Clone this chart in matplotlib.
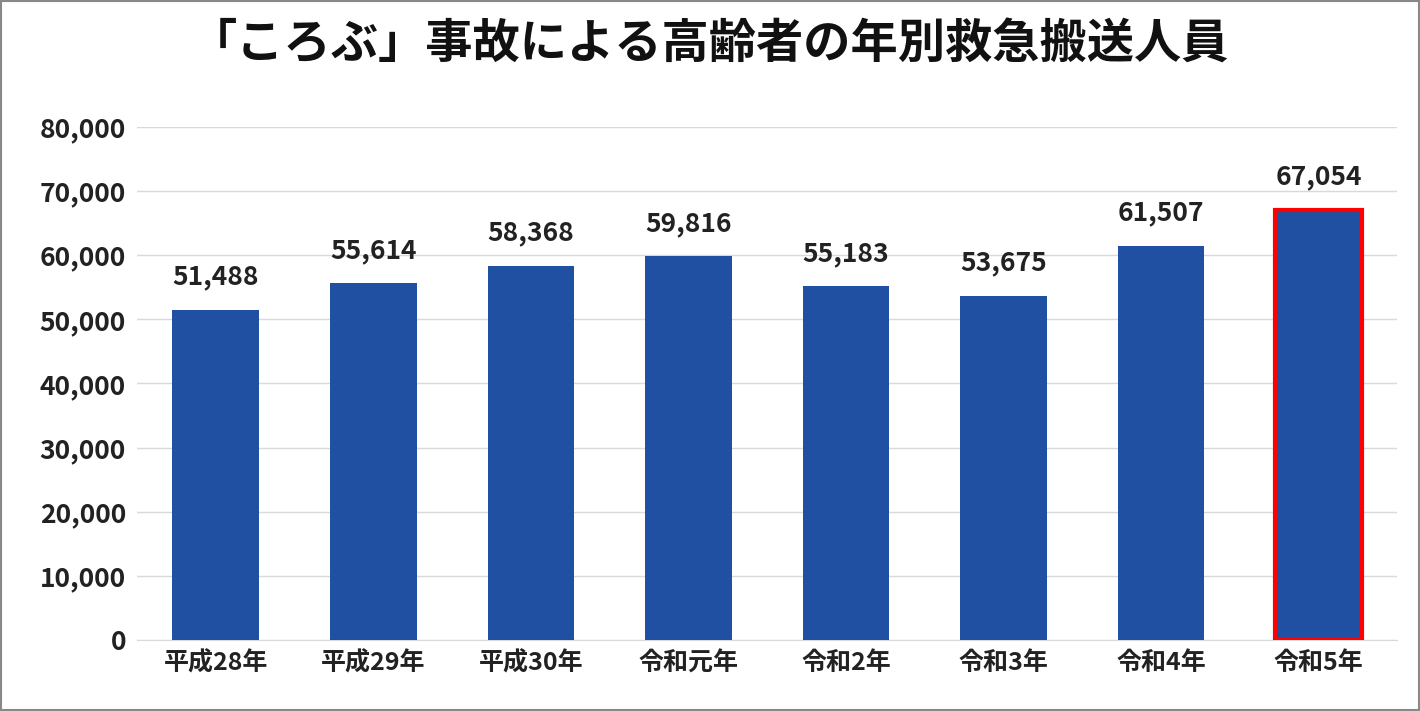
import matplotlib.pyplot as plt
from matplotlib.patches import Rectangle

plt.rcParams["font.family"] = "Noto Sans CJK JP"

# data
years = ["平成28年", "平成29年", "平成30年", "令和元年", "令和2年", "令和3年", "令和4年", "令和5年"]
counts = [51488, 55614, 58368, 59816, 55183, 53675, 61507, 67054]
yticks = [0, 10000, 20000, 30000, 40000, 50000, 60000, 70000, 80000]

BAR_COLOR = "#2050A2"

fig = plt.figure(figsize=(14.2, 7.11), dpi=100)
ax = fig.add_axes([0.0965, 0.0999, 0.8875, 0.7215])

x = list(range(len(years)))
bars = ax.bar(x, counts, width=0.55, color=BAR_COLOR, zorder=3)
bars[-1].set_edgecolor("#FF0000")
bars[-1].set_linewidth(3)

for xi, v in zip(x, counts):
    ax.text(xi, v + 3000, f"{v:,}", ha="center", va="bottom",
            fontsize=19, fontweight="bold", color="#222222")

ax.set_xlim(-0.5, len(years) - 0.5)
ax.set_ylim(0, 80000)
ax.set_yticks(yticks)
ax.set_yticklabels([f"{t:,}" for t in yticks], fontsize=19, fontweight="bold", color="#222222")
ax.set_xticks(x)
ax.set_xticklabels(years, fontsize=18, fontweight="bold", color="#222222")
ax.grid(axis="y", color="#D9D9D9", linewidth=1, zorder=0)
for s in ["top", "right", "left"]:
    ax.spines[s].set_visible(False)
ax.spines["bottom"].set_color("#D9D9D9")
ax.tick_params(length=0, pad=8)

fig.text(0.5, 0.937, "「ころぶ」事故による高齢者の年別救急搬送人員", ha="center", va="center",
         fontsize=34, fontweight="bold", color="#111111")

fig.patches.append(Rectangle((0.001, 0.001), 0.998, 0.998, transform=fig.transFigure,
                             fill=False, edgecolor="#888888", linewidth=1.5))

fig.savefig("out.png", dpi=100)
